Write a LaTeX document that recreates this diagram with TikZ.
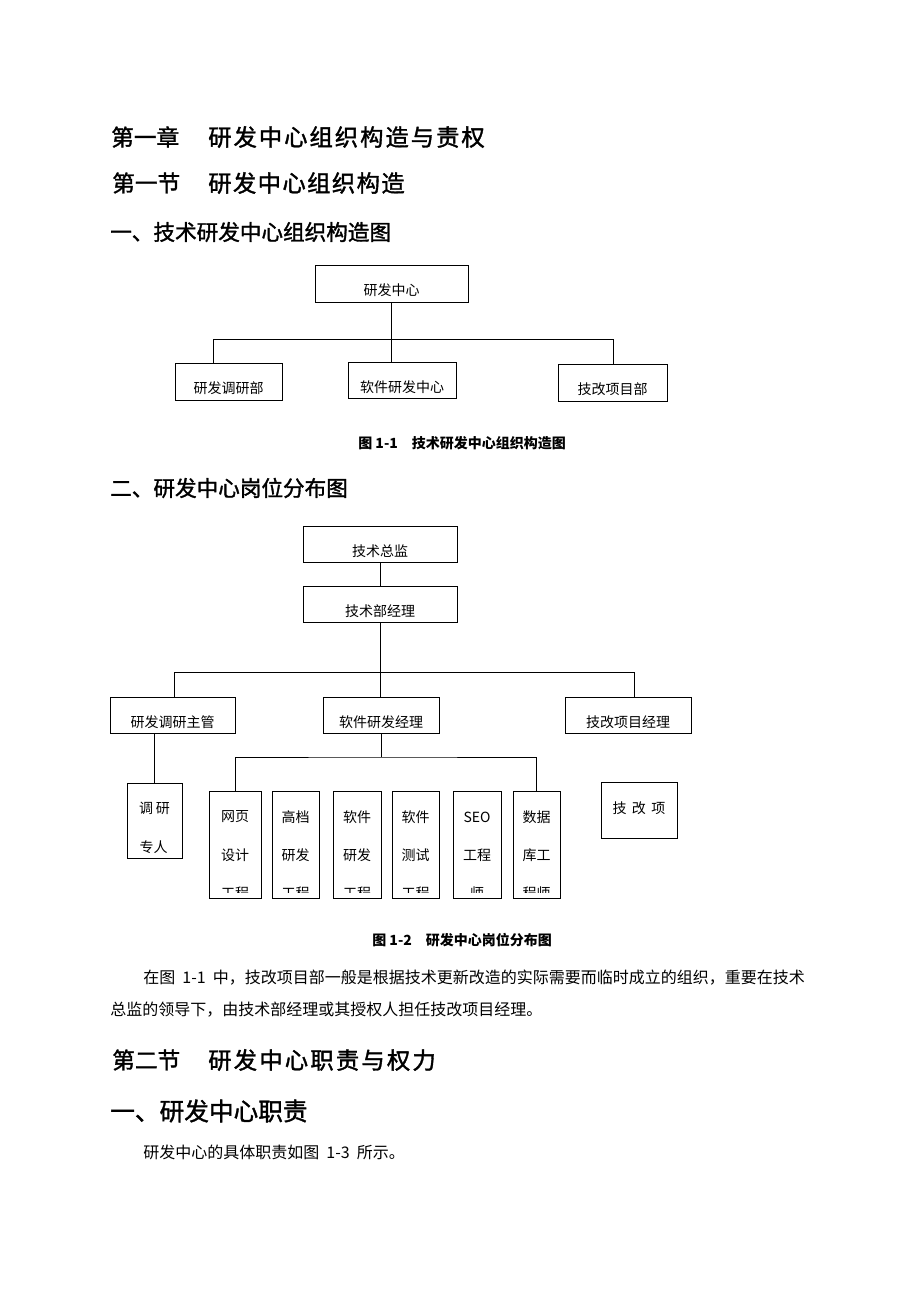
\documentclass[tikz,border=0pt]{standalone}
\usepackage{fontspec}
\setmainfont{Noto Sans CJK SC}
\newfontfamily\heiti[FakeBold=1.5]{Noto Sans CJK SC}

\begin{document}
\begin{tikzpicture}[x=0.75pt, y=-0.75pt,
	wh/.style 2 args={minimum width=#1*0.75pt, minimum height=#2*0.75pt},
	unit/.style={draw, line width=0.7pt, inner sep=0pt, text height=18.4pt, text depth=0pt, font=\fontsize{10.5}{12}\selectfont},
	post/.style={draw, line width=0.7pt, inner sep=0pt},
	cell/.style={inner sep=0pt, font=\fontsize{10.5}{12}\selectfont},
	link/.style={line width=0.7pt},
	head/.style={anchor=west, inner sep=0pt},
	body/.style={anchor=west, inner sep=0pt, font=\fontsize{12}{14}\selectfont},
	caption/.style={anchor=west, inner sep=0pt, font=\bfseries\fontsize{10.5}{12}\selectfont}]
				\useasboundingbox (0,0) rectangle (920,1302);
				\fill[white] (0,0) rectangle (920,1302);

				% Headings
				\node[head, font=\heiti\fontsize{17}{20}\selectfont] (ch1a) at (111,137) {第一章};
				\node[head, font=\heiti\fontsize{17.5}{20}\selectfont\addfontfeature{LetterSpace=8.5}] (ch1b) at (208,137) {研发中心组织构造与责权};
				\node[head, font=\heiti\fontsize{17}{20}\selectfont] (sec1a) at (112,183) {第一节};
				\node[head, font=\heiti\fontsize{17.5}{20}\selectfont\addfontfeature{LetterSpace=6}] (sec1b) at (208,183) {研发中心组织构造};
				\node[head, font=\heiti\fontsize{16.2}{20}\selectfont] (sub1) at (110,232) {一、技术研发中心组织构造图};

				% Figure 1-1
				\node[unit, wh={153}{37}] (rdc) at (391.5,283.5) {研发中心};
				\node[unit, wh={107}{37}] (svy) at (228.5,381.5) {研发调研部};
				\node[unit, wh={108}{36}] (sw) at (402,380) {软件研发中心};
				\node[unit, wh={109}{37}] (tp) at (612.5,382.5) {技改项目部};
				\coordinate (bar1l) at (213,339);
				\coordinate (bar1r) at (613,339);
				\draw[link] (rdc.south) -- (rdc.south |- sw.north);
				\draw[link] (svy.north -| bar1l) -- (bar1l) -- (bar1r) -- (tp.north -| bar1r);
				\node[caption] (cap1) at (358,443) {图 1-1\hspace{1em}技术研发中心组织构造图};

				\node[head, font=\heiti\fontsize{16.2}{20}\selectfont] (sub2) at (110,488) {二、研发中心岗位分布图};

				% Figure 1-2
				\node[unit, wh={154}{36}] (cto) at (380,544) {技术总监};
				\node[unit, wh={154}{36}] (mgr) at (380,604) {技术部经理};
				\node[unit, wh={125}{36}] (lead) at (172.5,715) {研发调研主管};
				\node[unit, wh={116}{36}] (swm) at (381,715) {软件研发经理};
				\node[unit, wh={126}{36}] (tpm) at (628,715) {技改项目经理};
				\coordinate (bar2l) at (174,672);
				\coordinate (bar2r) at (634,672);
				\draw[link] (cto) -- (mgr);
				\draw[link] (mgr.south) -- (mgr.south |- swm.north);
				\draw[link] (lead.north -| bar2l) -- (bar2l) -- (bar2r) -- (tpm.north -| bar2r);

				% research staff
				\node[post, wh={55}{75}] (svyp) at (154.5,820.5) {};
				\node[cell] (svyp-1) at (154.5,808) {调\hspace{2pt}研};
				\node[cell] (svyp-2) at (153.5,847) {专人};
				\draw[link] (svyp.north |- lead.south) -- (svyp.north);

				% reform project
				\node[post, wh={76}{56}] (tpp) at (639,810) {};
				\node[cell] (tpp-1) at (639,808) {技\hspace{4pt}改\hspace{4pt}项};
				\draw[link] (tpm.south -| bar2r) -- (tpm.south -| bar2r |- tpp.north);

				% engineers
				\foreach \name/\x/\w/\a/\b/\c in {web/235/52/网页/设计/工程, adv/295.5/47/高档/研发/工程, dev/357/48/软件/研发/工程, test/415.5/47/软件/测试/工程, seo/477/48/SEO/工程/师, db/536.5/47/数据/库工/程师}
				{
					\node[post, wh={\w}{107}] (\name) at (\x,844.5) {};
					\begin{scope}
						\clip (\name.north west) rectangle ([yshift=4.5pt]\name.south east);
						\node[cell] (\name-1) at (\x,817) {\a};
						\node[cell] (\name-2) at (\x,855) {\b};
						\node[cell] (\name-3) at (\x,893) {\c};
					\end{scope}
				}
				\coordinate (bar3) at (380,757);
				\draw[link] (swm.south) -- (swm.south |- bar3);
				\draw[link] (web.north) |- (bar3) -| (db.north);
				\node[caption] (cap2) at (372,940) {图 1-2\hspace{1em}研发中心岗位分布图};

				% Text
				\node[body] (par1) at (143,978) {在图\hspace{0.45em}1-1\hspace{0.45em}中，技改项目部一般是根据技术更新改造的实际需要而临时成立的组织，重要在技术};
				\node[body] (par2) at (110,1010) {总监的领导下，由技术部经理或其授权人担任技改项目经理。};
				\node[head, font=\heiti\fontsize{17}{20}\selectfont] (sec2a) at (112,1060) {第二节};
				\node[head, font=\heiti\fontsize{17.5}{20}\selectfont\addfontfeature{LetterSpace=9.4}] (sec2b) at (208,1060) {研发中心职责与权力};
				\node[head, font=\heiti\fontsize{18.5}{22}\selectfont] (sub3) at (110,1111) {一、研发中心职责};
				\node[body] (par3) at (143,1152) {研发中心的具体职责如图\hspace{0.45em}1-3\hspace{0.45em}所示。};
			\end{tikzpicture}
\end{document}
